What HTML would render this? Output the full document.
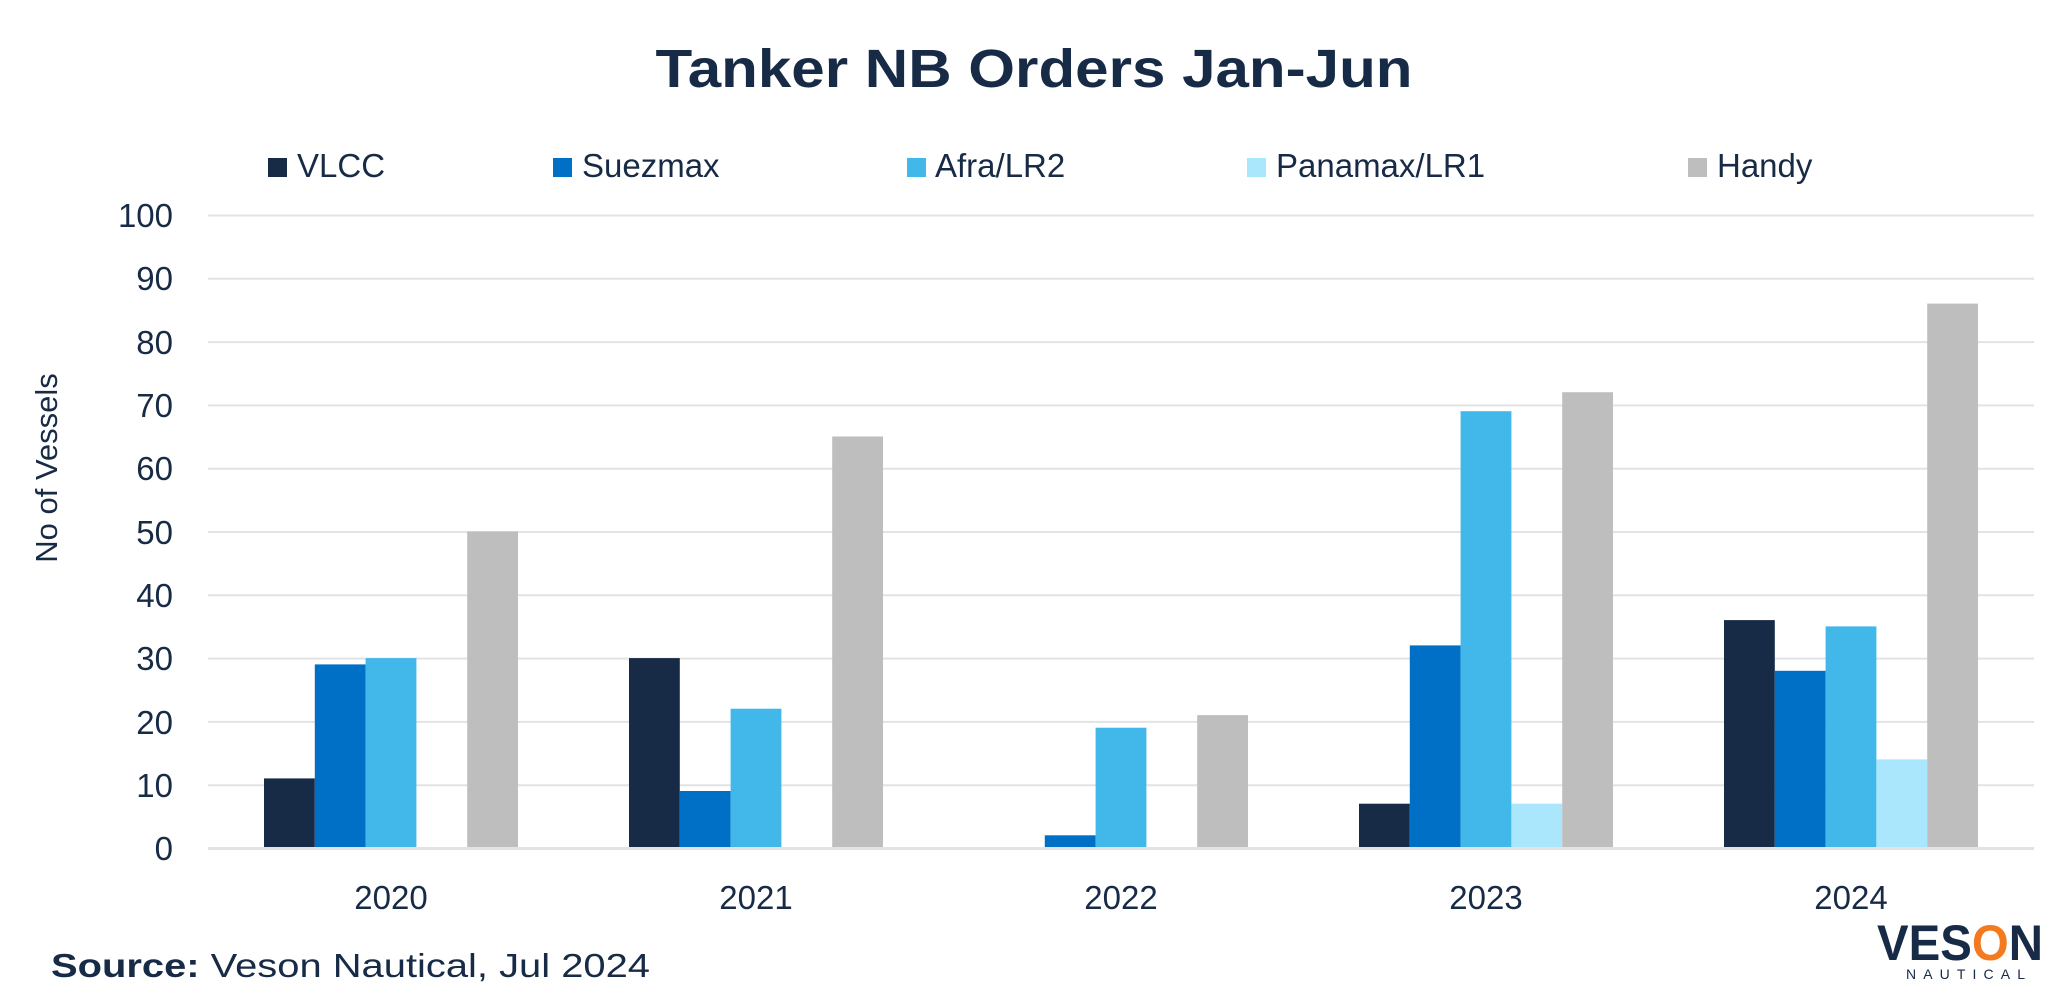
<!DOCTYPE html>
<html><head><meta charset="utf-8"><style>
html,body{margin:0;padding:0;background:#fff;}
svg{display:block;font-family:"Liberation Sans",sans-serif;}
</style></head><body>
<svg width="2068" height="993" viewBox="0 0 2068 993" xmlns="http://www.w3.org/2000/svg">
<text x="1034" y="87" text-anchor="middle" font-size="54" font-weight="bold" fill="#172a46" textLength="757" lengthAdjust="spacingAndGlyphs">Tanker NB Orders Jan-Jun</text>
<g font-size="33" fill="#172a46">
<rect x="268" y="158" width="19" height="19" fill="#172a46"/><text x="297" y="177">VLCC</text>
<rect x="553" y="158" width="19" height="19" fill="#0070c6"/><text x="582" y="177">Suezmax</text>
<rect x="907" y="158" width="19" height="19" fill="#42b8ea"/><text x="935" y="177">Afra/LR2</text>
<rect x="1247" y="158" width="19" height="19" fill="#aae6fc"/><text x="1276" y="177">Panamax/LR1</text>
<rect x="1688" y="158" width="19" height="19" fill="#bebebe"/><text x="1717" y="177">Handy</text>
</g>
<g stroke="#e3e3e3" stroke-width="2">
<line x1="208" x2="2034" y1="215.5" y2="215.5"/>
<line x1="208" x2="2034" y1="278.8" y2="278.8"/>
<line x1="208" x2="2034" y1="342.1" y2="342.1"/>
<line x1="208" x2="2034" y1="405.4" y2="405.4"/>
<line x1="208" x2="2034" y1="468.7" y2="468.7"/>
<line x1="208" x2="2034" y1="532" y2="532"/>
<line x1="208" x2="2034" y1="595.3" y2="595.3"/>
<line x1="208" x2="2034" y1="658.6" y2="658.6"/>
<line x1="208" x2="2034" y1="721.9" y2="721.9"/>
<line x1="208" x2="2034" y1="785.2" y2="785.2"/>
</g>
<g font-size="33" fill="#172a46" text-anchor="end">
<text x="173" y="227">100</text><text x="173" y="290">90</text><text x="173" y="354">80</text>
<text x="173" y="417">70</text><text x="173" y="480">60</text><text x="173" y="544">50</text>
<text x="173" y="607">40</text><text x="173" y="670">30</text><text x="173" y="734">20</text>
<text x="173" y="797">10</text><text x="173" y="860">0</text>
</g>
<text transform="translate(57,468) rotate(-90)" text-anchor="middle" font-size="31" fill="#172a46">No of Vessels</text>
<g>
<rect x="264" y="778.4" width="50.8" height="69.6" fill="#172a46"/>
<rect x="314.8" y="664.4" width="50.8" height="183.6" fill="#0070c6"/>
<rect x="365.6" y="658.1" width="50.8" height="189.9" fill="#42b8ea"/>
<rect x="467.2" y="531.5" width="50.8" height="316.5" fill="#bebebe"/>
<rect x="629" y="658.1" width="50.8" height="189.9" fill="#172a46"/>
<rect x="679.8" y="791" width="50.8" height="57" fill="#0070c6"/>
<rect x="730.6" y="708.7" width="50.8" height="139.3" fill="#42b8ea"/>
<rect x="832.2" y="436.5" width="50.8" height="411.5" fill="#bebebe"/>
<rect x="1044.8" y="835.3" width="50.8" height="12.7" fill="#0070c6"/>
<rect x="1095.6" y="727.7" width="50.8" height="120.3" fill="#42b8ea"/>
<rect x="1197.2" y="715.1" width="50.8" height="132.9" fill="#bebebe"/>
<rect x="1359" y="803.7" width="50.8" height="44.3" fill="#172a46"/>
<rect x="1409.8" y="645.4" width="50.8" height="202.6" fill="#0070c6"/>
<rect x="1460.6" y="411.2" width="50.8" height="436.8" fill="#42b8ea"/>
<rect x="1511.4" y="803.7" width="50.8" height="44.3" fill="#aae6fc"/>
<rect x="1562.2" y="392.2" width="50.8" height="455.8" fill="#bebebe"/>
<rect x="1724" y="620.1" width="50.8" height="227.9" fill="#172a46"/>
<rect x="1774.8" y="670.8" width="50.8" height="177.2" fill="#0070c6"/>
<rect x="1825.6" y="626.4" width="50.8" height="221.6" fill="#42b8ea"/>
<rect x="1876.4" y="759.4" width="50.8" height="88.6" fill="#aae6fc"/>
<rect x="1927.2" y="303.6" width="50.8" height="544.4" fill="#bebebe"/>
</g>
<line x1="208" x2="2034" y1="848.5" y2="848.5" stroke="#e3e3e3" stroke-width="3"/>
<g font-size="33" fill="#172a46" text-anchor="middle">
<text x="391" y="909">2020</text><text x="756" y="909">2021</text><text x="1121" y="909">2022</text>
<text x="1486" y="909">2023</text><text x="1851" y="909">2024</text>
</g>
<text x="51" y="977" font-size="33" fill="#172a46" textLength="599" lengthAdjust="spacingAndGlyphs"><tspan font-weight="bold">Source:</tspan> Veson Nautical, Jul 2024</text>
<text x="1877" y="960" font-size="50" font-weight="bold" fill="#172a46" textLength="166" lengthAdjust="spacingAndGlyphs">VES<tspan fill="#f47a20">O</tspan>N</text>
<text x="1906" y="979" font-size="14" fill="#172a46" textLength="119" lengthAdjust="spacing">NAUTICAL</text>
</svg>
</body></html>
